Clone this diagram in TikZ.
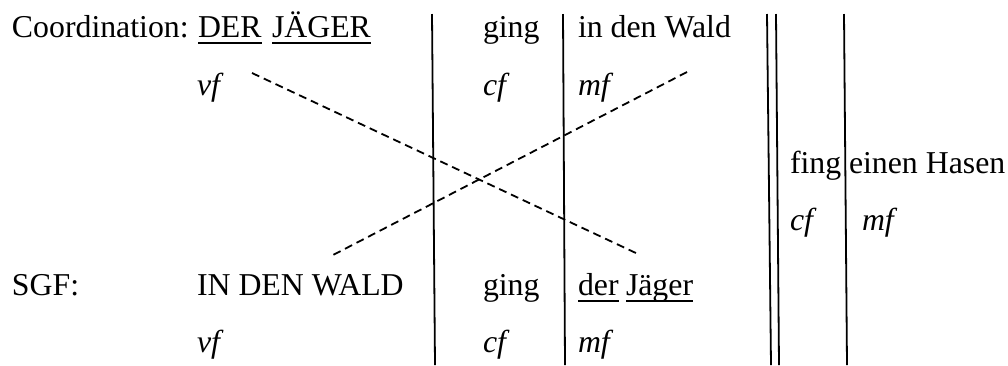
\documentclass[tikz,border=0pt]{standalone}
\usepackage{fontspec}
\setmainfont{Liberation Serif}
\begin{document}
\begin{tikzpicture}[x=1pt,y=-1pt,
  lbl/.style={anchor=base west,inner sep=0pt,outer sep=0pt,font=\fontsize{31.8}{36}\selectfont},
  fld/.style={lbl,font=\fontsize{31.8}{36}\selectfont\itshape},
  bar/.style={line width=1.8pt},
  ul/.style={line width=1.6pt},
  cross/.style={line width=1.8pt,dash pattern=on 8pt off 5pt}]
\useasboundingbox (0,0) rectangle (1008,365);
% texts
\node[lbl] (coord) at (12,37) {Coordination:};
\node[lbl] (der) at (198,37) {DER};
\node[lbl] (jaeger) at (272,37) {JÄGER};
\node[fld] (vf1) at (197,95) {vf};
\node[lbl] (ging1) at (483,37) {ging};
\node[lbl] (wald1) at (578,37) {in den Wald};
\node[fld] (cf1) at (483,95) {cf};
\node[fld] (mf1) at (578,95) {mf};
\node[lbl] (fing) at (790,173) {fing};
\node[lbl] (hasen) at (849,173) {einen Hasen};
\node[fld] (cf3) at (790,230) {cf};
\node[fld] (mf3) at (862,230) {mf};
\node[lbl] (sgf) at (12,295) {SGF:};
\node[lbl] (wald2) at (197,295) {IN DEN WALD};
\node[fld] (vf2) at (197,352) {vf};
\node[lbl] (ging2) at (483,295) {ging};
\node[lbl] (der2) at (578,295) {der};
\node[lbl] (jaeger2) at (626,295) {Jäger};
\node[fld] (cf2) at (483,352) {cf};
\node[fld] (mf2) at (578,352) {mf};
% underlines
\foreach \n in {der,jaeger,der2,jaeger2}
  \draw[ul] ([yshift=-6pt]\n.base west) -- ([yshift=-6pt]\n.base east);
% field boundaries
\coordinate (b1t) at (432,14); \coordinate (b1b) at (435,365);
\coordinate (b2t) at (563,14); \coordinate (b2b) at (565,365);
\coordinate (b3t) at (767,14); \coordinate (b3b) at (771,365);
\coordinate (b4t) at (776,14); \coordinate (b4b) at (779,365);
\coordinate (b5t) at (844,14); \coordinate (b5b) at (847,365);
\foreach \i in {1,...,5}
  \draw[bar] (b\i t) -- (b\i b);
% crossing dashed lines
\coordinate (xa1) at (252,73); \coordinate (xa2) at (638,254);
\coordinate (xb1) at (687,72); \coordinate (xb2) at (333,255);
\draw[cross] (xa1) -- (xa2);
\draw[cross] (xb1) -- (xb2);
\end{tikzpicture}
\end{document}
